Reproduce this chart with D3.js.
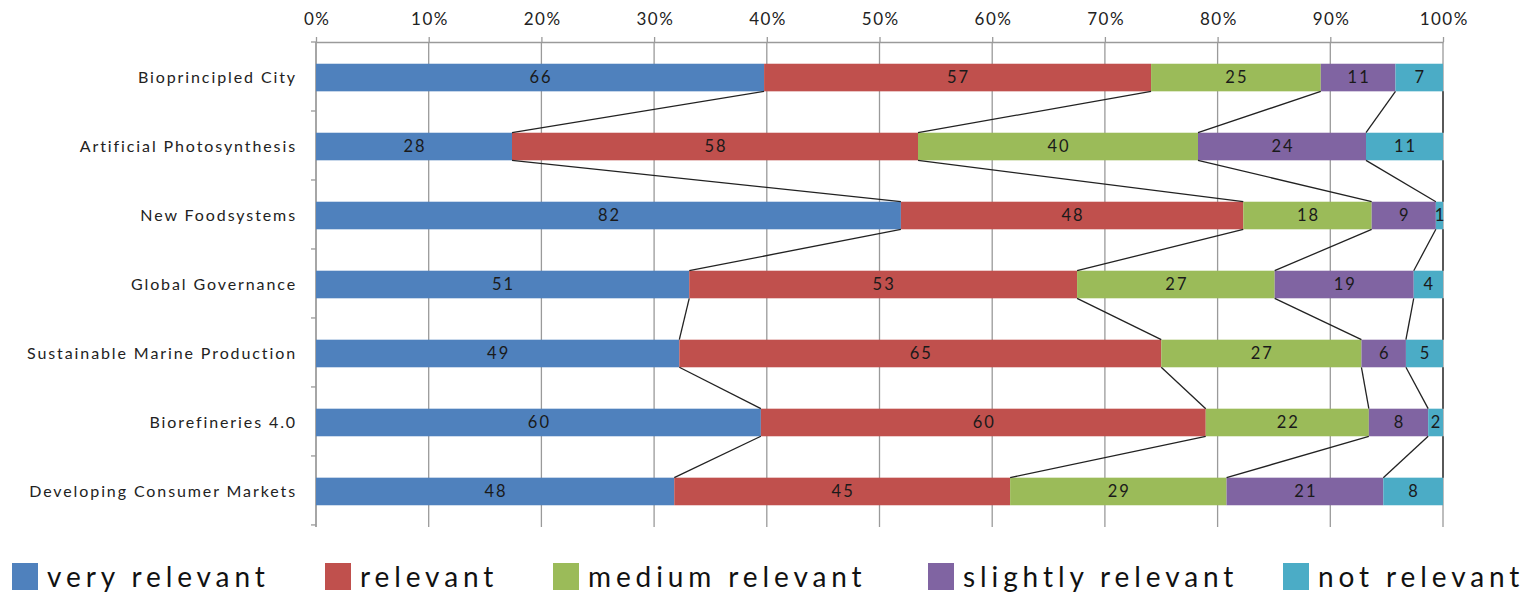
<!DOCTYPE html>
<html><head><meta charset="utf-8">
<script src="https://cdn.jsdelivr.net/npm/d3@7"></script>
<style>body{margin:0;background:#fff}svg{display:block}</style>
</head><body>
<svg id="c" width="1531" height="594"></svg>
<script>
const categories = ["Bioprincipled City","Artificial Photosynthesis","New Foodsystems","Global Governance","Sustainable Marine Production","Biorefineries 4.0","Developing Consumer Markets"];
const seriesNames = ["very relevant","relevant","medium relevant","slightly relevant","not relevant"];
const veryRelevant = [66,28,82,51,49,60,48];
const relevant = [57,58,48,53,65,60,45];
const mediumRelevant = [25,40,18,27,27,22,29];
const slightlyRelevant = [11,24,9,19,6,8,21];
const notRelevant = [7,11,1,4,5,2,8];
const tickValues = [0,0.1,0.2,0.3,0.4,0.5,0.6,0.7,0.8,0.9,1.0];
const colors = ["#4F81BD","#C0504D","#9BBB59","#8064A2","#4BACC6"];

(function(){
const seriesValues = [veryRelevant, relevant, mediumRelevant, slightlyRelevant, notRelevant];
const rows = categories.map((c,i)=>{
  const o = {cat:c};
  seriesNames.forEach((s,j)=>o[s]=seriesValues[j][i]);
  return o;
});
const stack = d3.stack().keys(seriesNames).offset(d3.stackOffsetExpand);
const layers = stack(rows);

const svg = d3.select("#c");
const pl = 316, pr = 1443, pt = 42, pb = 527;
const x = d3.scaleLinear().domain([0,1]).range([pl,pr]);
const y = d3.scaleBand().domain(categories).range([pt,pb]).paddingInner(0.6).paddingOuter(0.315);
const font = "Lato, 'Open Sans', sans-serif";

// gridlines
svg.append("g").selectAll("line").data(tickValues).join("line")
  .attr("x1",d=>x(d)).attr("x2",d=>x(d)).attr("y1",pt).attr("y2",pb)
  .attr("stroke","#9a9a9a").attr("stroke-width",1.3);

// top axis
const xAxis = d3.axisTop(x).tickValues(tickValues).tickFormat(d3.format(".0%")).tickSize(5).tickSizeOuter(0);
const gx = svg.append("g").attr("transform",`translate(0,${pt})`).call(xAxis);
gx.select(".domain").attr("stroke","#9a9a9a").attr("stroke-width",1.3);
gx.selectAll(".tick line").attr("stroke","#9a9a9a").attr("stroke-width",1.3);
gx.selectAll("text").attr("font-family",font).attr("font-size",17).attr("fill","#222")
  .attr("y",-17).attr("letter-spacing","1.5px").attr("dx","0.75px");

// left axis
const gy = svg.append("g").attr("transform",`translate(${pl},0)`)
  .call(d3.axisLeft(y).tickSize(0).tickPadding(19));
gy.select(".domain").remove();
svg.append("line").attr("x1",pl).attr("x2",pl).attr("y1",pt).attr("y2",pb).attr("stroke","#9a9a9a").attr("stroke-width",1.3);
const step = y.step();
svg.append("g").selectAll("line").data(d3.range(categories.length+1)).join("line")
  .attr("x1",pl-5).attr("x2",pl).attr("y1",d=>pt+d*step).attr("y2",d=>pt+d*step)
  .attr("stroke","#9a9a9a").attr("stroke-width",1.3);
gy.selectAll("text").attr("font-family",font).attr("font-size",16).attr("fill","#222")
  .attr("letter-spacing","1.9px");

// bars
const bars = svg.append("g");
layers.forEach((layer,j)=>{
  const g = bars.append("g");
  g.selectAll("rect").data(layer).join("rect")
    .attr("x",d=>x(d[0])).attr("width",d=>x(d[1])-x(d[0]))
    .attr("y",d=>y(d.data.cat)).attr("height",y.bandwidth())
    .attr("fill",colors[j]);
  g.selectAll("text").data(layer).join("text")
    .attr("x",d=>(x(d[0])+x(d[1]))/2 + 1).attr("y",d=>y(d.data.cat)+y.bandwidth()/2)
    .attr("dy","0.36em").attr("text-anchor","middle")
    .attr("font-family",font).attr("font-size",16.5).attr("fill","#1a1a1a")
    .attr("letter-spacing","2px")
    .text(d=>d.data[seriesNames[j]]);
});

// series lines
const sl = svg.append("g");
layers.forEach(layer=>{
  for(let i=0;i<layer.length-1;i++){
    sl.append("line")
      .attr("x1",x(layer[i][1])).attr("y1",y(categories[i])+y.bandwidth())
      .attr("x2",x(layer[i+1][1])).attr("y2",y(categories[i+1]))
      .attr("stroke","#222").attr("stroke-width",1.3);
  }
});

// legend
const legX = [12,325,553,928,1283];
const lg = svg.append("g");
seriesNames.forEach((s,j)=>{
  lg.append("rect").attr("x",legX[j]).attr("y",563).attr("width",26).attr("height",27).attr("fill",colors[j]);
  lg.append("text").attr("x",legX[j]+35).attr("y",577).attr("dy","0.36em")
    .attr("font-family",font).attr("font-size",28).attr("fill","#111")
    .attr("letter-spacing","4.9px")
    .text(s);
});
})();
</script>
</body></html>
